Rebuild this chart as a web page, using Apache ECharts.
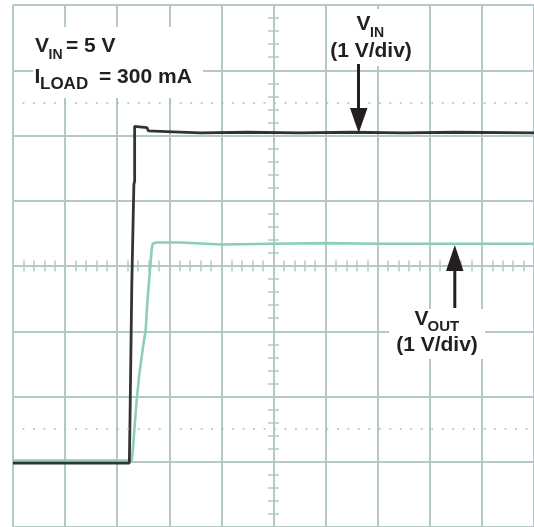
<!DOCTYPE html>
<html><head><meta charset="utf-8">
<script src="https://cdn.jsdelivr.net/npm/echarts@6/dist/echarts.min.js"></script>
<style>html,body{margin:0;padding:0;background:#fff}#c{width:534px;height:527px}</style>
</head><body><div id="c"></div>
<script>
// time in divisions, voltage in volts (1 V/div)
const vinTime  = [0, 2.233, 2.245, 2.28, 2.28, 2.30, 2.32, 2.335, 2.335, 2.37, 2.57, 2.6, 2.95, 3.6, 4.5, 5.5, 6.5, 7.5, 8.5, 10];
const vinVolts = [-0.02, -0.02, 0.61, 0.62, 2.7, 2.72, 4.25, 4.3, 5.14, 5.14, 5.12, 5.07, 5.06, 5.04, 5.05, 5.04, 5.05, 5.04, 5.05, 5.04];
const voutTime  = [0, 2.281, 2.309, 2.338, 2.376, 2.424, 2.49, 2.548, 2.576, 2.615, 2.643, 2.662, 2.681, 2.75, 3.2, 4, 5, 6, 7, 8, 9, 10];
const voutVolts = [0.02, 0.02, 0.275, 0.58, 0.96, 1.34, 1.73, 2.03, 2.41, 2.80, 3.07, 3.26, 3.34, 3.36, 3.36, 3.33, 3.34, 3.35, 3.34, 3.34, 3.34, 3.34];
const dottedLevels = [0.5, 5.5];
const timeRange = [0, 10];
const voltRange = [-1, 7];

const gridColor = '#b4c8c8';
const ink = '#231f20';
const F = '"Liberation Sans", Arial, Helvetica, sans-serif';
const rect = {left: 13, top: 5, width: 524, height: 523.4};

const chart = echarts.init(document.getElementById('c'), null, {renderer: 'canvas'});
const ls = {color: gridColor, width: 2};
const tickAxis = (dim, inside) => Object.assign({
  gridIndex: 1, type: 'value', interval: 1,
  axisLine: {show: true, onZero: true, onZeroAxisIndex: 1, lineStyle: ls},
  axisTick: {show: true, inside: inside, length: 5.5, lineStyle: {color: gridColor, width: 1.5}},
  minorTick: {show: true, splitNumber: 5, length: 5.5, lineStyle: {color: gridColor, width: 1.5}},
  axisLabel: {show: false}, splitLine: {show: false}, silent: true
}, dim === 'x' ? {min: -5, max: 5, position: 'bottom'} : {min: -4, max: 4, position: 'left'});

function txt(t, x, y, size, align) {
  return {type: 'text', x: x, y: y, z: 101, silent: true,
    style: {text: t, font: 'bold ' + size + 'px ' + F, fill: ink, align: align || 'left', verticalAlign: 'middle'}};
}

chart.setOption({
  animation: false,
  backgroundColor: '#fff',
  grid: [Object.assign({}, rect), Object.assign({}, rect)],
  xAxis: [
    {gridIndex: 0, type: 'value', min: timeRange[0], max: timeRange[1], interval: 1,
     axisLine: {show: false}, axisTick: {show: false}, axisLabel: {show: false},
     splitLine: {show: true, showMinLine: true, showMaxLine: true, lineStyle: ls}},
    tickAxis('x', false), tickAxis('x', true)
  ],
  yAxis: [
    {gridIndex: 0, type: 'value', min: voltRange[0], max: voltRange[1], interval: 1,
     axisLine: {show: false}, axisTick: {show: false}, axisLabel: {show: false},
     splitLine: {show: true, showMinLine: true, showMaxLine: true, lineStyle: ls}},
    tickAxis('y', false), tickAxis('y', true)
  ],
  series: [
    {type: 'line', name: 'VOUT', xAxisIndex: 0, yAxisIndex: 0, symbol: 'none', silent: true,
     data: voutTime.map((t, i) => [t, voutVolts[i]]),
     lineStyle: {color: '#8ccfb8', width: 2.6}, z: 3,
     markLine: {silent: true, symbol: 'none', label: {show: false},
       lineStyle: {color: '#a9bdbd', width: 1.5, type: [1.8, 8.68], dashOffset: 0.9},
       emphasis: {disabled: true},
       data: dottedLevels.map(v => ({yAxis: v}))}},
    {type: 'line', name: 'VIN', xAxisIndex: 0, yAxisIndex: 0, symbol: 'none', silent: true,
     data: vinTime.map((t, i) => [t, vinVolts[i]]),
     lineStyle: {color: '#333335', width: 2.8}, z: 4}
  ],
  graphic: [
    {type: 'rect', z: 100, silent: true, shape: {x: 33, y: 27, width: 170, height: 71}, style: {fill: '#fff'}},
    {type: 'rect', z: 100, silent: true, shape: {x: 327, y: 9, width: 88, height: 57}, style: {fill: '#fff'}},
    {type: 'rect', z: 100, silent: true, shape: {x: 389, y: 309, width: 96, height: 50}, style: {fill: '#fff'}},
    txt('V', 35, 45.8, 21),
    txt('IN', 48.5, 55.5, 14),
    txt('= 5 V', 66, 45.8, 21),
    txt('I', 34.6, 77.5, 21),
    txt('LOAD', 40, 84.5, 17),
    txt('= 300 mA', 99, 77.5, 21),
    txt('V', 356.5, 24.5, 21),
    txt('IN', 370, 33.5, 14),
    txt('(1 V/div)', 371, 51, 21, 'center'),
    txt('V', 414.5, 319, 21),
    txt('OUT', 427.5, 327, 15),
    txt('(1 V/div)', 437, 345.2, 21, 'center'),
    {type: 'rect', z: 101, silent: true, shape: {x: 357, y: 64, width: 3, height: 46}, style: {fill: ink}},
    {type: 'polygon', z: 101, silent: true, shape: {points: [[350, 108], [367.5, 108], [358.7, 133]]}, style: {fill: ink}},
    {type: 'rect', z: 101, silent: true, shape: {x: 453.3, y: 268, width: 3, height: 40}, style: {fill: ink}},
    {type: 'polygon', z: 101, silent: true, shape: {points: [[446, 271], [463.5, 271], [454.8, 245]]}, style: {fill: ink}}
  ]
});
</script></body></html>
